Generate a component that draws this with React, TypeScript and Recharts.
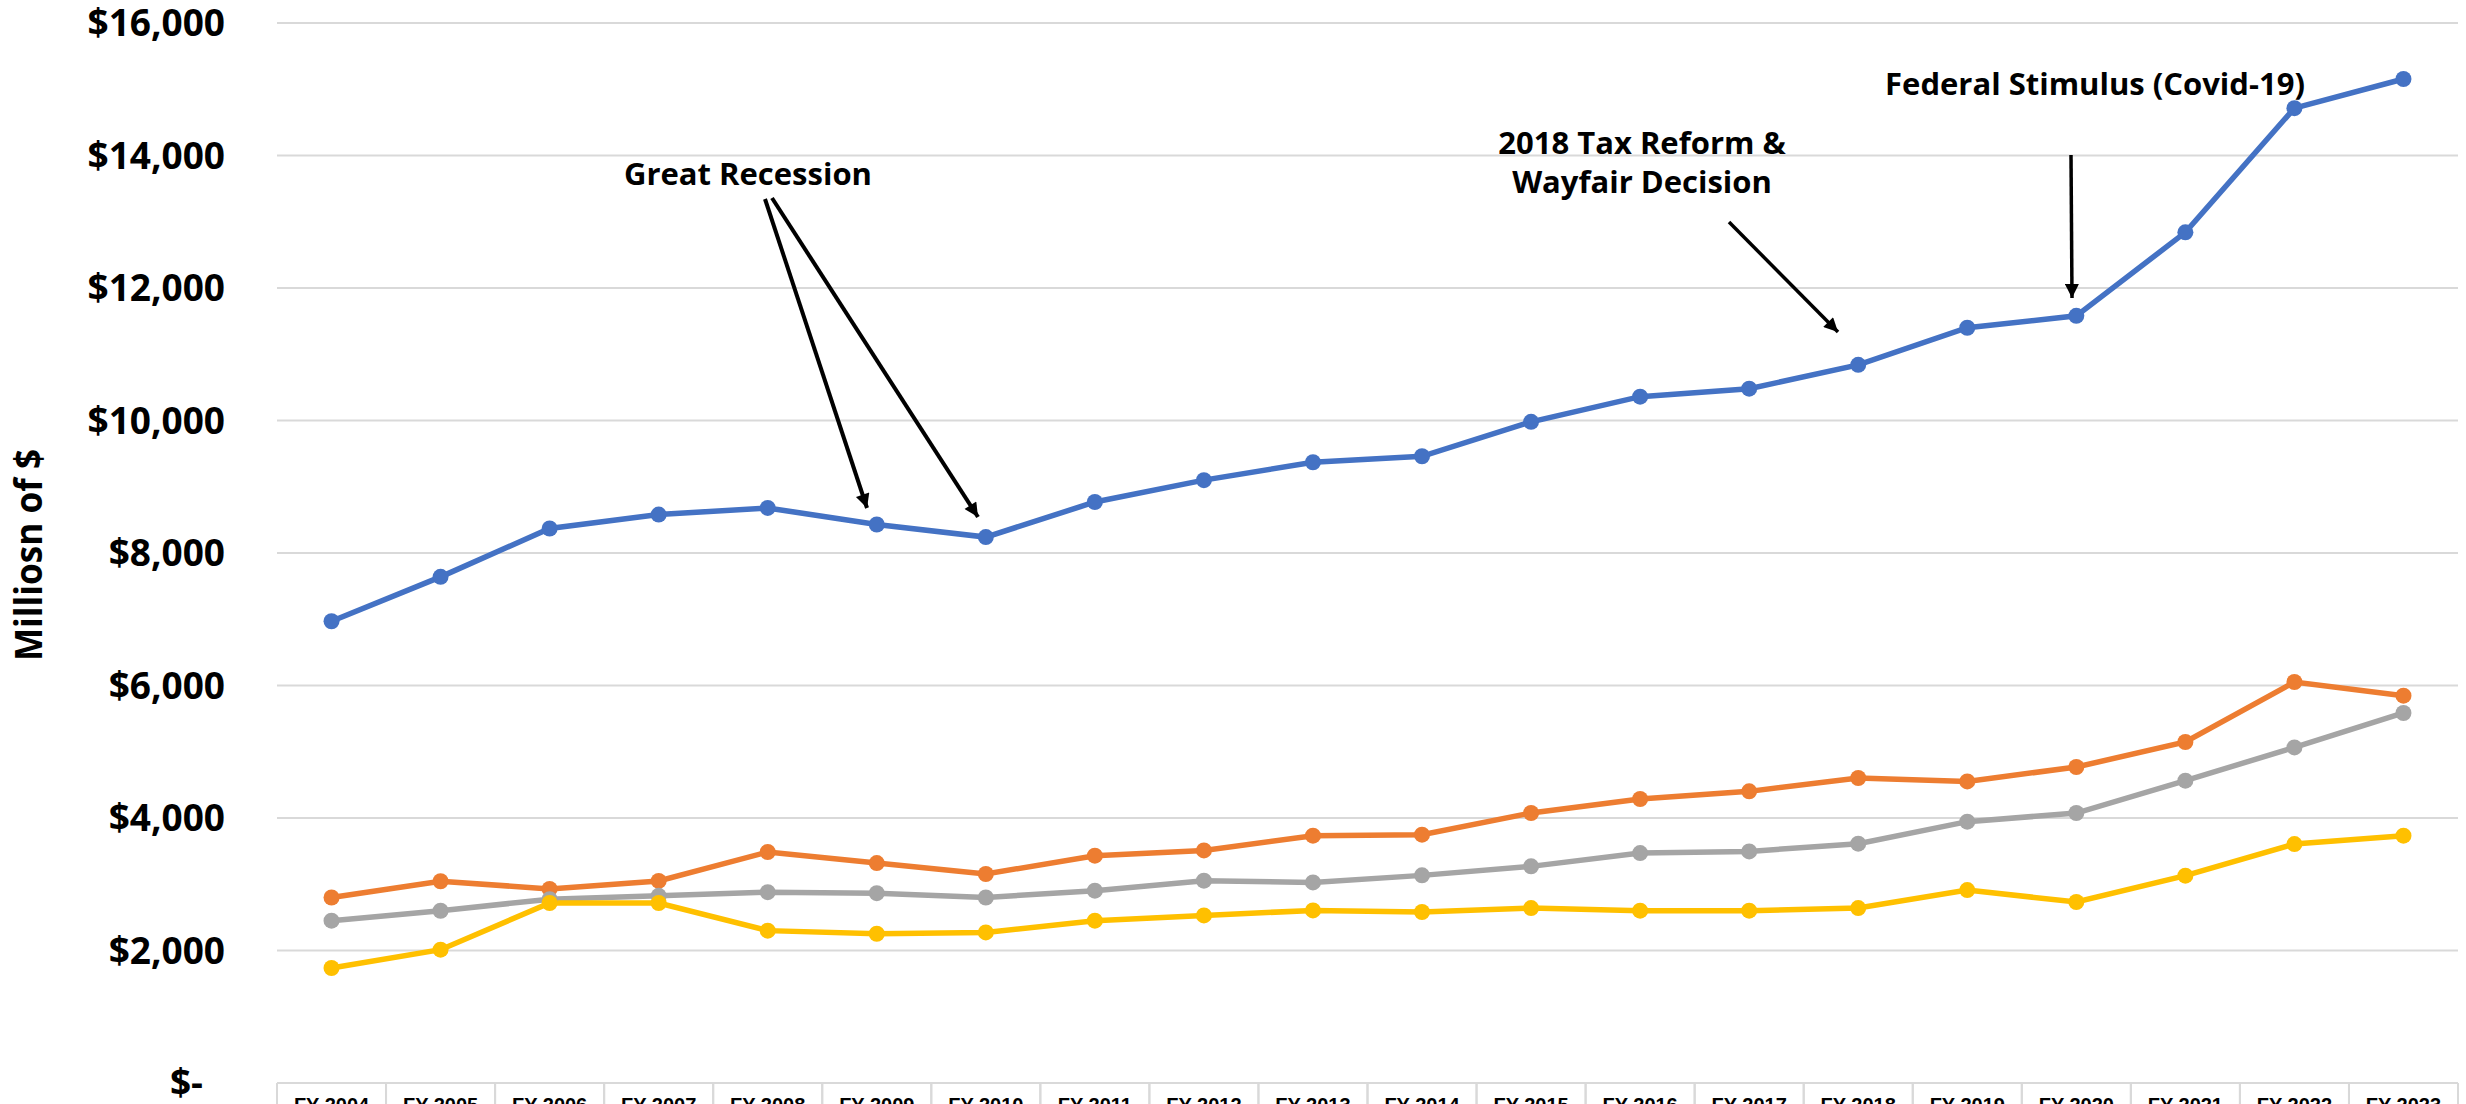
import React from "react"
import { LineChart, Line, XAxis, YAxis, CartesianGrid } from "recharts"

const years = [
  "FY 2004", "FY 2005", "FY 2006", "FY 2007", "FY 2008",
  "FY 2009", "FY 2010", "FY 2011", "FY 2012", "FY 2013",
  "FY 2014", "FY 2015", "FY 2016", "FY 2017", "FY 2018",
  "FY 2019", "FY 2020", "FY 2021", "FY 2022", "FY 2023",
]

const blueSeries   = [6970, 7640, 8370, 8580, 8680, 8430, 8240, 8770, 9100, 9370, 9460, 9980, 10360, 10480, 10840, 11400, 11580, 12840, 14715, 15155]
const orangeSeries = [2800, 3045, 2930, 3050, 3487, 3320, 3155, 3431, 3511, 3733, 3748, 4075, 4287, 4402, 4604, 4552, 4770, 5147, 6053, 5846]
const graySeries   = [2450, 2600, 2775, 2825, 2880, 2865, 2800, 2903, 3054, 3028, 3134, 3270, 3471, 3496, 3612, 3945, 4075, 4563, 5066, 5585]
const yellowSeries = [1736, 2012, 2717, 2717, 2300, 2253, 2273, 2450, 2530, 2605, 2581, 2641, 2601, 2601, 2641, 2912, 2732, 3129, 3607, 3733]

const yTicks = [0, 2000, 4000, 6000, 8000, 10000, 12000, 14000, 16000]

const W = 2466
const H = 1104
const PLOT_LEFT = 277
const PLOT_RIGHT = 2458
const PLOT_TOP = 23
const PLOT_BOTTOM = 1083
const CELL = (PLOT_RIGHT - PLOT_LEFT) / years.length

const data = years.map((year, i) => ({
  year,
  blue: blueSeries[i],
  orange: orangeSeries[i],
  gray: graySeries[i],
  yellow: yellowSeries[i],
}))

const font = "'Open Sans', 'Noto Sans', sans-serif"

const fmtMoney = (v: number) =>
  v === 0 ? "$-" : "$" + v.toLocaleString("en-US")

const YTick = (props: any) => {
  const v = props.payload.value
  return (
    <text
      x={v === 0 ? 203 : 225}
      y={props.y}
      dy={13}
      textAnchor="end"
      fontFamily={font}
      fontWeight={700}
      fontSize={37}
      fill="#000"
    >
      {fmtMoney(v)}
    </text>
  )
}

// data-table style header cells under the plot
const XTick = (props: any) => {
  const cx = props.x
  return (
    <g>
      <line x1={cx - CELL / 2} x2={cx - CELL / 2} y1={PLOT_BOTTOM} y2={H} stroke="#d9d9d9" strokeWidth={2} />
      <line x1={cx + CELL / 2} x2={cx + CELL / 2} y1={PLOT_BOTTOM} y2={H} stroke="#d9d9d9" strokeWidth={2} />
      <text
        x={cx}
        y={PLOT_BOTTOM + 29}
        textAnchor="middle"
        fontFamily="'Liberation Sans', Arial, sans-serif"
        fontWeight={700}
        fontSize={20}
        fill="#000"
      >
        {props.payload.value}
      </text>
    </g>
  )
}

const series = [
  { key: "blue", color: "#4472C4" },
  { key: "orange", color: "#ED7D31" },
  { key: "gray", color: "#A5A5A5" },
  { key: "yellow", color: "#FFC000" },
]

const Annotations = () => (
  <svg
    width={W}
    height={H}
    style={{ position: "absolute", left: 0, top: 0, pointerEvents: "none" }}
  >
    <defs>
      <marker id="ah" viewBox="0 0 10 10" refX="10" refY="5" markerWidth="17" markerHeight="14"
        markerUnits="userSpaceOnUse" orient="auto">
        <path d="M0,0 L10,5 L0,10 z" fill="#000" />
      </marker>
    </defs>
    <text
      transform="translate(42,555) rotate(-90)"
      textAnchor="middle"
      fontFamily={font}
      fontWeight={700}
      fontSize={37}
      textLength={212}
      lengthAdjust="spacingAndGlyphs"
      fill="#000"
    >
      Milliosn of $
    </text>
    <g fontFamily={font} fontWeight={700} fontSize={31} fill="#000" textAnchor="middle">
      <text x={748} y={185}>Great Recession</text>
      <text x={1642} y={154}>2018 Tax Reform &amp;</text>
      <text x={1642} y={193}>Wayfair Decision</text>
      <text x={2095} y={95}>Federal Stimulus (Covid-19)</text>
    </g>
    <g stroke="#000" fill="none">
      <line x1={765} y1={199} x2={867} y2={508} strokeWidth={4} markerEnd="url(#ah)" />
      <line x1={772} y1={198} x2={978} y2={517} strokeWidth={4} markerEnd="url(#ah)" />
      <line x1={1729} y1={222} x2={1838} y2={332} strokeWidth={3.5} markerEnd="url(#ah)" />
      <line x1={2071} y1={155} x2={2072} y2={298} strokeWidth={3.5} markerEnd="url(#ah)" />
    </g>
  </svg>
)

export default function App() {
  return (
    <div
      style={{
        position: "absolute",
        left: 0,
        top: 0,
        width: W,
        height: H,
        overflow: "hidden",
        background: "#fff",
      }}
    >
      <LineChart
        width={W}
        height={H}
        data={data}
        margin={{ top: PLOT_TOP, right: W - PLOT_RIGHT, left: 0, bottom: 0 }}
      >
        <CartesianGrid vertical={false} stroke="#d9d9d9" strokeWidth={2} />
        <XAxis
          dataKey="year"
          height={H - PLOT_BOTTOM}
          padding={{ left: CELL / 2, right: CELL / 2 }}
          axisLine={{ stroke: "#d9d9d9", strokeWidth: 2 }}
          tickLine={false}
          interval={0}
          tick={<XTick />}
        />
        <YAxis
          width={PLOT_LEFT}
          domain={[0, 16000]}
          ticks={yTicks}
          axisLine={false}
          tickLine={false}
          tick={<YTick />}
        />
        {series.map((s) => (
          <Line
            key={s.key}
            dataKey={s.key}
            type="linear"
            stroke={s.color}
            strokeWidth={5.5}
            dot={{ r: 8, fill: s.color, stroke: s.color, strokeWidth: 0 }}
            activeDot={false}
            isAnimationActive={false}
          />
        ))}
      </LineChart>
      <Annotations />
    </div>
  )
}
